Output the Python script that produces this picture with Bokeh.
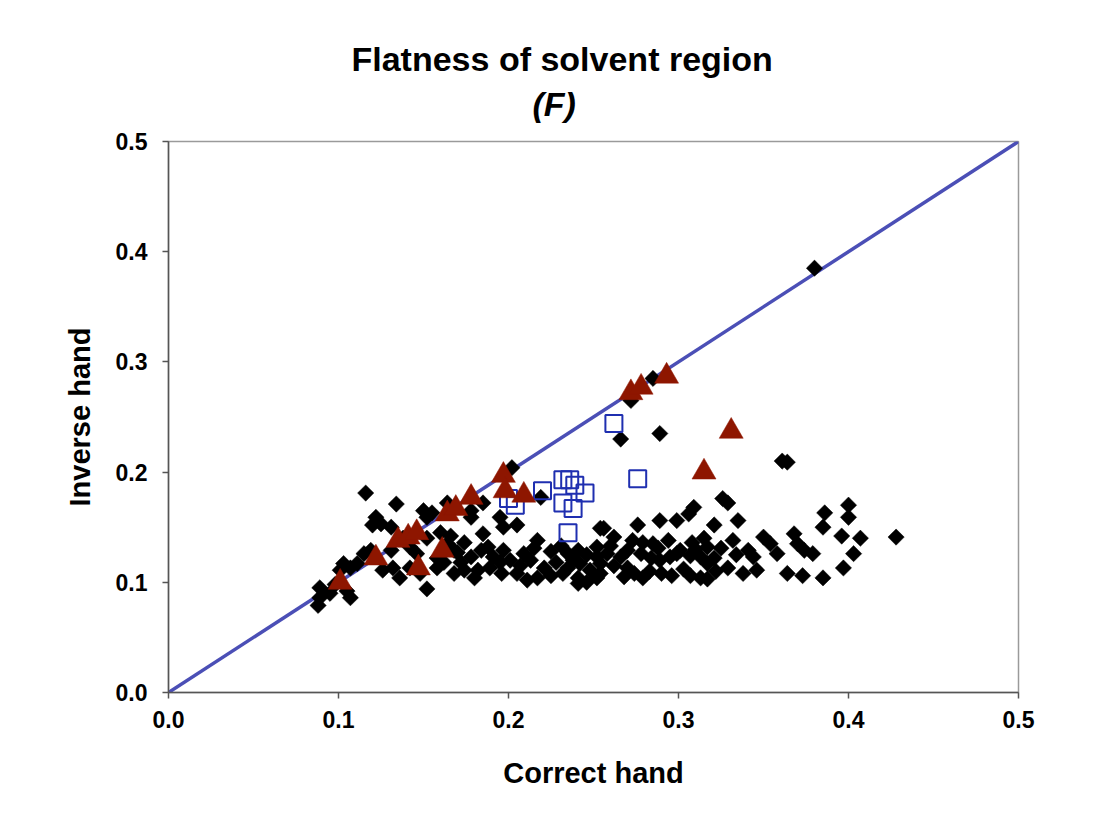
import math
from bokeh.plotting import figure
from bokeh.models import Range1d, FixedTicker, NumeralTickFormatter, Title, ColumnDataSource
from bokeh.embed import file_html
from bokeh.resources import INLINE

# ---- data ----
diamond_x = [
    0.116, 0.134, 0.122, 0.120, 0.125, 0.131, 0.150, 0.152, 0.155, 0.164, 0.160, 0.164, 0.168, 0.168,
    0.158, 0.152, 0.136, 0.142, 0.132, 0.126, 0.119, 0.115, 0.111, 0.107, 0.103, 0.101, 0.107, 0.089,
    0.089, 0.088, 0.142, 0.146, 0.131, 0.095, 0.105, 0.098, 0.138,
    0.174, 0.166, 0.170, 0.178, 0.184, 0.188, 0.191, 0.197, 0.195, 0.201, 0.189, 0.182, 0.174, 0.185,
    0.178, 0.185, 0.195, 0.197, 0.205, 0.178, 0.205, 0.211, 0.217, 0.221, 0.225, 0.209, 0.215, 0.217,
    0.213, 0.231, 0.235, 0.241, 0.235, 0.242, 0.241, 0.248, 0.252, 0.241, 0.252, 0.256, 0.252, 0.219,
    0.202,
    0.326, 0.329, 0.309, 0.306, 0.299, 0.289, 0.276, 0.262, 0.254, 0.321, 0.335, 0.273, 0.279, 0.285,
    0.294, 0.308, 0.315, 0.317, 0.325, 0.332, 0.301, 0.307, 0.313, 0.321, 0.258, 0.266, 0.270, 0.278,
    0.284, 0.289, 0.295, 0.299, 0.329, 0.341, 0.344, 0.346, 0.254, 0.270, 0.274, 0.279, 0.296, 0.307,
    0.313, 0.317, 0.260, 0.254, 0.317,
    0.350, 0.354, 0.358, 0.364, 0.368, 0.370, 0.374, 0.379, 0.373, 0.385, 0.386, 0.385, 0.400, 0.400,
    0.396, 0.407, 0.403, 0.397, 0.428, 0.361, 0.364,
    0.380, 0.285, 0.272, 0.266, 0.289,
    0.172, 0.180, 0.196, 0.207, 0.228, 0.232, 0.238, 0.246, 0.225, 0.246, 0.262, 0.268, 0.283, 0.288,
    0.303, 0.310, 0.322, 0.334, 0.338, 0.290, 0.158, 0.152, 0.148, 0.162,
]
diamond_y = [
    0.181, 0.171, 0.159, 0.152, 0.153, 0.150, 0.165, 0.159, 0.163, 0.172, 0.145, 0.135, 0.129, 0.108,
    0.113, 0.094, 0.104, 0.113, 0.113, 0.111, 0.129, 0.126, 0.117, 0.113, 0.117, 0.111, 0.086, 0.095,
    0.086, 0.079, 0.132, 0.126, 0.129, 0.090, 0.092, 0.098, 0.140,
    0.136, 0.142, 0.127, 0.123, 0.129, 0.132, 0.123, 0.129, 0.118, 0.120, 0.113, 0.111, 0.111, 0.144,
    0.159, 0.172, 0.159, 0.150, 0.152, 0.165, 0.108, 0.102, 0.104, 0.113, 0.106, 0.126, 0.131, 0.138,
    0.120, 0.133, 0.126, 0.129, 0.113, 0.117, 0.104, 0.111, 0.104, 0.099, 0.132, 0.149, 0.123, 0.177,
    0.204,
    0.176, 0.172, 0.168, 0.162, 0.156, 0.156, 0.152, 0.141, 0.149, 0.152, 0.156, 0.138, 0.136, 0.135,
    0.138, 0.136, 0.140, 0.132, 0.131, 0.138, 0.129, 0.124, 0.123, 0.122, 0.126, 0.123, 0.129, 0.126,
    0.122, 0.120, 0.123, 0.126, 0.113, 0.129, 0.123, 0.111, 0.108, 0.113, 0.108, 0.104, 0.106, 0.106,
    0.104, 0.103, 0.133, 0.117, 0.117,
    0.141, 0.135, 0.126, 0.108, 0.144, 0.135, 0.129, 0.126, 0.106, 0.104, 0.163, 0.150, 0.170, 0.159,
    0.142, 0.140, 0.126, 0.113, 0.141, 0.210, 0.209,
    0.385, 0.285, 0.265, 0.230, 0.235,
    0.118, 0.104, 0.108, 0.115, 0.118, 0.108, 0.120, 0.125, 0.128, 0.100, 0.115, 0.105, 0.110, 0.131,
    0.112, 0.130, 0.110, 0.125, 0.108, 0.108, 0.122, 0.140, 0.108, 0.118,
]

square_x = [0.200, 0.204, 0.220, 0.232, 0.236, 0.239, 0.245, 0.232, 0.238, 0.235, 0.262, 0.276]
square_y = [0.176, 0.170, 0.183, 0.193, 0.193, 0.188, 0.181, 0.172, 0.167, 0.145, 0.244, 0.194]

triangle_x = [0.101, 0.122, 0.135, 0.141, 0.146, 0.147, 0.161, 0.164, 0.169, 0.178, 0.197, 0.198,
              0.209, 0.272, 0.278, 0.293, 0.315, 0.331]
triangle_y = [0.100, 0.122, 0.138, 0.141, 0.145, 0.113, 0.129, 0.162, 0.167, 0.177, 0.197, 0.183,
              0.179, 0.272, 0.277, 0.287, 0.200, 0.237]

diag_x = [0.0, 0.5]
diag_y = [0.0, 0.5]

tick_values = [0.0, 0.1, 0.2, 0.3, 0.4, 0.5]

title_main = "Flatness of solvent region"
title_sub = "(F)"
x_title = "Correct hand"
y_title = "Inverse hand"

FONT = "Liberation Sans"
LEFT, TOP, BOTTOM = 168, 141, 143
H = 835

p = figure(width=1106, height=H, output_backend="svg", toolbar_location=None,
           x_range=Range1d(0, 0.5), y_range=Range1d(0, 0.5),
           min_border_left=LEFT, min_border_right=88, min_border_top=TOP, min_border_bottom=BOTTOM)
p.background_fill_color = "white"
p.border_fill_color = "white"
p.xgrid.visible = False
p.ygrid.visible = False
p.outline_line_color = "#9a9a9a"
p.outline_line_width = 1.5

for ax in (p.xaxis[0], p.yaxis[0]):
    ax.ticker = FixedTicker(ticks=tick_values)
    ax.formatter = NumeralTickFormatter(format="0.0")
    ax.axis_line_color = "#555555"
    ax.axis_line_width = 1.5
    ax.major_tick_line_color = "#555555"
    ax.major_tick_line_width = 1.5
    ax.major_tick_in = 0
    ax.major_tick_out = 6
    ax.minor_tick_line_color = None
    ax.major_label_text_font = FONT
    ax.major_label_text_font_style = "bold"
    ax.major_label_text_font_size = "23px"
    ax.major_label_text_color = "black"
    ax.axis_label_text_font = FONT
    ax.axis_label_text_font_style = "bold"
    ax.axis_label_text_font_size = "29px"
    ax.axis_label_text_color = "black"

p.xaxis.axis_label = x_title
p.xaxis.major_label_standoff = 12
p.xaxis.axis_label_standoff = 26
p.yaxis.axis_label = y_title
p.yaxis.major_label_standoff = 15
p.yaxis.axis_label_standoff = 17

p.line(diag_x, diag_y, line_color="#4B4FB6", line_width=3.5)

dsrc = ColumnDataSource(dict(x=diamond_x, y=diamond_y))
p.scatter("x", "y", source=dsrc, marker="square", size=11.5, angle=math.pi / 4,
          fill_color="black", line_color="black", line_width=0.5)

ssrc = ColumnDataSource(dict(x=square_x, y=square_y))
p.scatter("x", "y", source=ssrc, marker="square", size=17, fill_color=None,
          line_color="#1F2FB0", line_width=2)

tsrc = ColumnDataSource(dict(x=triangle_x, y=triangle_y))
p.scatter("x", "y", source=tsrc, marker="triangle", size=24, fill_color="#8E1600",
          line_color="#8E1600", line_width=0.5)

# titles: the one added last sits outermost
p.add_layout(Title(text=title_sub, text_font=FONT, text_font_style="bold italic",
                   text_font_size="34px", align="left", offset=364, standoff=38,
                   text_color="black"), "above")
p.add_layout(Title(text=title_main, text_font=FONT, text_font_style="bold",
                   text_font_size="34px", align="left", offset=183, standoff=-28,
                   text_color="black"), "above")

open("out.html", "w").write(file_html(p, INLINE))
